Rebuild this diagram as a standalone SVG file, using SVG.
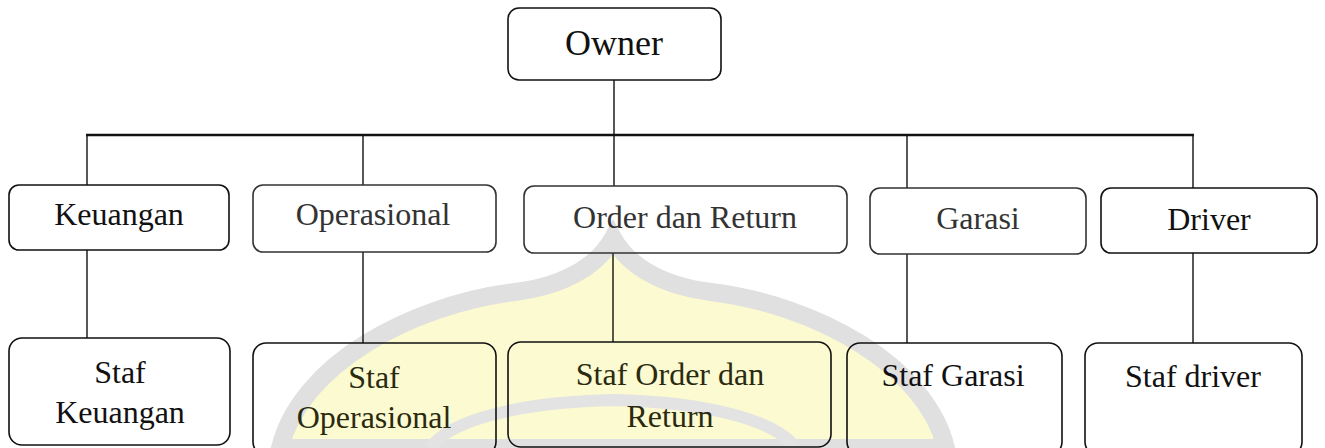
<svg xmlns="http://www.w3.org/2000/svg" width="1325" height="448" viewBox="0 0 1325 448">
<style>
  .box{fill:none;stroke:#111;stroke-width:1.6}
  .soft{stroke:#333}
  text{font-family:'Liberation Serif','Tinos','Times New Roman','DejaVu Serif',serif;font-size:32px;fill:#111;text-anchor:middle}
  .g{fill:#333}
  .y{fill:#2a2a10}
  .conn line{stroke:#111;stroke-width:1.4}
</style>
<rect width="1325" height="448" fill="#fff"/>
<g id="watermark">
  <path d="M 280 448 C 300 365, 410 305, 515 292 C 570 285, 600 262, 613 238 C 626 262, 656 285, 711 292 C 816 305, 926 365, 946 448 Z" fill="#fcfad0" stroke="#e0e0e0" stroke-width="18"/>
  <path d="M 430 448 C 450 420, 520 402, 613 400 C 706 402, 776 420, 796 448" fill="none" stroke="#e3e3e3" stroke-width="12"/>
</g>
<g class="conn" id="connectors">
  <line x1="614" y1="80" x2="614" y2="135"/>
  <line x1="86" y1="135" x2="1194" y2="135" style="stroke-width:2.6"/>
  <line x1="87" y1="135" x2="87" y2="185"/>
  <line x1="363" y1="135" x2="363" y2="185"/>
  <line x1="614" y1="135" x2="614" y2="186"/>
  <line x1="907" y1="135" x2="907" y2="188"/>
  <line x1="1193" y1="135" x2="1193" y2="188"/>
  <line x1="87" y1="250" x2="87" y2="338"/>
  <line x1="363" y1="252" x2="363" y2="343"/>
  <line x1="613" y1="253" x2="613" y2="342"/>
  <line x1="907" y1="254" x2="907" y2="343"/>
  <line x1="1193" y1="253" x2="1193" y2="343"/>
</g>
<g id="owner"><rect class="box" x="508" y="8" width="213" height="72" rx="11"/><text font-family="Liberation Serif, serif" x="614" y="55" style="font-size:36px">Owner</text></g>
<g id="keuangan"><rect class="box" x="9" y="185" width="220" height="65" rx="10"/><text font-family="Liberation Serif, serif" x="119" y="225">Keuangan</text></g>
<g id="operasional"><rect class="box soft" x="253" y="185" width="243" height="67" rx="10"/><text font-family="Liberation Serif, serif" class="g" x="373" y="225">Operasional</text></g>
<g id="order"><rect class="box soft" x="524" y="186" width="323" height="67" rx="10"/><text font-family="Liberation Serif, serif" class="g" x="685" y="228">Order dan Return</text></g>
<g id="garasi"><rect class="box soft" x="870" y="188" width="216" height="66" rx="10"/><text font-family="Liberation Serif, serif" class="g" x="978" y="229">Garasi</text></g>
<g id="driver"><rect class="box" x="1101" y="188" width="216" height="65" rx="10"/><text font-family="Liberation Serif, serif" x="1209" y="230">Driver</text></g>
<g id="staf-keuangan"><rect class="box" x="9" y="338" width="221" height="107" rx="13"/><text font-family="Liberation Serif, serif" x="120" y="383">Staf</text><text font-family="Liberation Serif, serif" x="120" y="423">Keuangan</text></g>
<g id="staf-operasional"><rect class="box" x="253" y="343" width="243" height="112" rx="13"/><text font-family="Liberation Serif, serif" class="y" x="374" y="388">Staf</text><text font-family="Liberation Serif, serif" class="y" x="374" y="428">Operasional</text></g>
<g id="staf-order"><rect class="box" x="508" y="342" width="323" height="105" rx="13"/><text font-family="Liberation Serif, serif" class="y" x="670" y="385">Staf Order dan</text><text font-family="Liberation Serif, serif" class="y" x="670" y="427">Return</text></g>
<g id="staf-garasi"><rect class="box" x="847" y="343" width="215" height="112" rx="13"/><text font-family="Liberation Serif, serif" x="953" y="386">Staf Garasi</text></g>
<g id="staf-driver"><rect class="box" x="1085" y="343" width="217" height="112" rx="13"/><text font-family="Liberation Serif, serif" x="1193" y="387">Staf driver</text></g>
</svg>
